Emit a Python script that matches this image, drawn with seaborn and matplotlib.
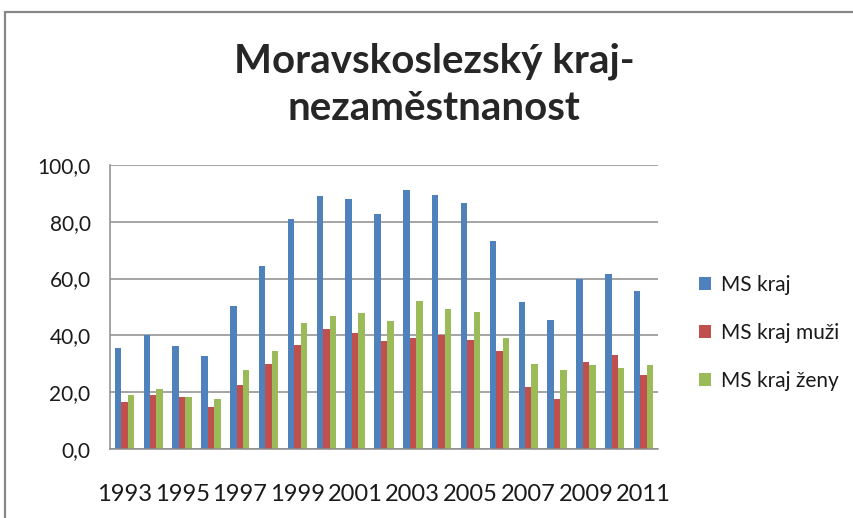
import matplotlib
matplotlib.use("Agg")
import matplotlib.pyplot as plt
import seaborn as sns
import pandas as pd
from matplotlib.patches import Rectangle

years = list(range(1993, 2012))
ms_kraj = [35.5, 40.0, 36.2, 32.7, 50.4, 64.4, 80.9, 88.9, 88.1, 82.6,
           91.0, 89.3, 86.5, 73.3, 51.6, 45.6, 60.0, 61.6, 55.6]
ms_muzi = [16.5, 19.0, 18.3, 15.0, 22.6, 29.9, 36.7, 42.3, 40.7, 37.9,
           39.1, 40.3, 38.3, 34.7, 21.8, 17.8, 30.7, 33.0, 26.2]
ms_zeny = [19.0, 21.1, 18.3, 17.8, 27.9, 34.7, 44.3, 46.7, 47.9, 45.1,
           52.0, 49.2, 48.2, 39.1, 29.9, 27.9, 29.5, 28.6, 29.5]
series_names = ["MS kraj", "MS kraj muži", "MS kraj ženy"]
colors = ["#4F81BD", "#C0504D", "#9BBB59"]
title = "Moravskoslezský kraj-\nnezaměstnanost"
y_ticks = [0, 20, 40, 60, 80, 100]

sns.set_theme(style="white")
plt.rcParams["font.family"] = ["Lato", "DejaVu Sans"]

rows = []
for name, vals in zip(series_names, [ms_kraj, ms_muzi, ms_zeny]):
    for y, v in zip(years, vals):
        rows.append({"rok": str(y), "serie": name, "hodnota": v})
df = pd.DataFrame(rows)

fig = plt.figure(figsize=(8.54, 5.18), dpi=100)
ax = fig.add_axes([110 / 854, 1 - 449.3 / 518, 548 / 854, 284.6 / 518])

sns.barplot(data=df, x="rok", y="hodnota", hue="serie", hue_order=series_names,
            palette=colors, width=0.67, gap=0, ax=ax, saturation=1,
            edgecolor="none", linewidth=0)

ax.set_ylim(0, 100)
ax.set_yticks(y_ticks)
ax.set_yticklabels([f"{v:.1f}".replace(".", ",") for v in y_ticks], fontsize=15, color="#1a1a1a")
ax.yaxis.grid(True, color="#8C8C8C", linewidth=1.1)
ax.set_axisbelow(True)
ax.set_xlim(-0.5, len(years) - 0.5)
ax.set_xticks(range(0, len(years), 2))
ax.set_xticklabels([str(y) for y in years[::2]], fontsize=17, color="#1a1a1a")
ax.tick_params(axis="x", length=0, pad=25)
ax.tick_params(axis="y", length=0, pad=14)
ax.set_xlabel("")
ax.set_ylabel("")
for s in ["top", "right"]:
    ax.spines[s].set_visible(False)
for s in ["left", "bottom"]:
    ax.spines[s].set_color("#8C8C8C")
    ax.spines[s].set_linewidth(1.1)

leg = ax.legend(loc="center left", bbox_to_anchor=(684 / 854, 1 - 333 / 518),
                bbox_transform=fig.transFigure, borderpad=0.2,
                frameon=False, fontsize=15, handlelength=0.6, handleheight=0.6,
                labelspacing=1.35, handletextpad=0.5)
for t in leg.get_texts():
    t.set_color("#1a1a1a")

fig.suptitle(title, x=0.508, y=0.918, fontsize=29, fontweight="bold", linespacing=1.35)

fig.add_artist(Rectangle((5 / 854, -0.1), 1.2, 1.1 - 12 / 518,
                         transform=fig.transFigure, fill=False,
                         edgecolor="#878787", linewidth=1.6, clip_on=False))

fig.savefig("out.png", dpi=100, facecolor="white")
